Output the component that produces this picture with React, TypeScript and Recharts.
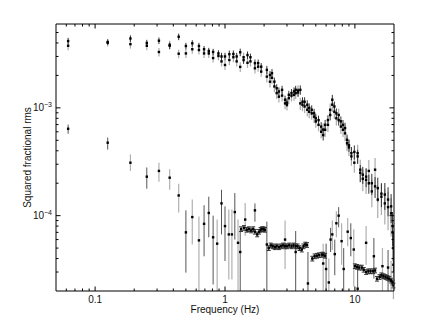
import { ScatterChart, Scatter, XAxis, YAxis, ErrorBar } from 'recharts';

// axis ticks (log scales, minor ticks unlabeled)
const xTicks = [0.06, 0.07, 0.08, 0.09, 0.1, 0.2, 0.3, 0.4, 0.5, 0.6, 0.7, 0.8, 0.9, 1, 2, 3, 4, 5, 6, 7, 8, 9, 10];
const xMajor = [0.1, 1, 10];
const yTicks = [
  3e-5, 4e-5, 5e-5, 6e-5, 7e-5, 8e-5, 9e-5, 1e-4,
  2e-4, 3e-4, 4e-4, 5e-4, 6e-4, 7e-4, 8e-4, 9e-4, 1e-3,
  2e-3, 3e-3, 4e-3, 5e-3,
];
const yMajor = [1e-4, 1e-3];
const yMajorExp: Record<string, string> = { '0.0001': '\u22124', '0.001': '\u22123' };

// upper power spectrum, two overlapping observations
const upperFreq = [
  0.062, 0.125, 0.187, 0.25, 0.31, 0.375, 0.44, 0.5, 0.56, 0.63,
  0.69, 0.75, 0.81, 0.89, 0.94, 1.0, 1.08, 1.16, 1.23, 1.31,
  1.39, 1.49, 1.57, 1.7, 1.8, 1.9, 2.1, 2.22, 2.3, 2.4,
  2.5, 2.6, 2.75, 2.9, 3.0, 3.1, 3.25, 3.4, 3.5, 3.65,
  3.8, 3.95, 4.1, 4.3, 4.45, 4.65, 4.85, 5.0, 5.25, 5.5,
  5.7, 5.9, 6.2, 6.45, 6.7, 6.95, 7.2, 7.5, 7.8, 8.1,
  8.4, 8.7, 9.0, 9.4, 9.9, 10.5, 11, 11.5, 12.2, 12.8,
  13.5, 14.3, 15, 16, 17, 18, 19, 19.5, 19.8,
];
const upperA = [
  4.17e-3, 4.08e-3, 4.4e-3, 4.0e-3, 4.2e-3, 3.77e-3, 4.57e-3, 3.75e-3, 3.97e-3, 3.75e-3,
  3.5e-3, 3.37e-3, 3.3e-3, 3.2e-3, 3.0e-3, 3.0e-3, 3.15e-3, 3.16e-3, 3.0e-3, 3.28e-3,
  2.78e-3, 3.09e-3, 2.95e-3, 2.6e-3, 2.6e-3, 2.41e-3, 2.25e-3, 2.02e-3, 2.1e-3, 1.75e-3,
  1.52e-3, 1.42e-3, 1.47e-3, 1.19e-3, 1.12e-3, 1.32e-3, 1.37e-3, 1.42e-3, 1.47e-3, 1.39e-3,
  1.47e-3, 1.14e-3, 1.14e-3, 1.07e-3, 1.0e-3, 9.6e-4, 8.9e-4, 8.0e-4, 7.7e-4, 6.7e-4,
  5.6e-4, 6.96e-4, 7.7e-4, 8.6e-4, 1.19e-3, 1.03e-3, 8.9e-4, 7.7e-4, 7.5e-4, 6.96e-4,
  6.5e-4, 5.05e-4, 4.5e-4, 3.8e-4, 3.9e-4, 3.55e-4, 2.5e-4, 2.4e-4, 2.3e-4, 2.0e-4,
  2.0e-4, 1.87e-4, 1.8e-4, 1.6e-4, 1.57e-4, 1.41e-4, 1.22e-4, 8e-5, 5e-5,
];
const upperB = [
  3.77e-3, 4.02e-3, 3.9e-3, 3.77e-3, 3.3e-3, 3.85e-3, 3.18e-3, 3.2e-3, 3.5e-3, 3.44e-3,
  3.2e-3, 3.2e-3, 2.9e-3, 3.03e-3, 2.7e-3, 2.5e-3, 2.78e-3, 2.95e-3, 2.7e-3, 2.4e-3,
  2.95e-3, 2.62e-3, 2.7e-3, 2.33e-3, 2.41e-3, 2.17e-3, 1.95e-3, 1.75e-3, 1.9e-3, 1.58e-3,
  1.37e-3, 1.27e-3, 1.3e-3, 1.1e-3, 1.07e-3, 1.23e-3, 1.3e-3, 1.32e-3, 1.37e-3, 1.45e-3,
  1.1e-3, 1.07e-3, 1.03e-3, 9.6e-4, 9.2e-4, 8.9e-4, 8.3e-4, 7.5e-4, 6.96e-4, 6.0e-4,
  6.3e-4, 6.26e-4, 6.96e-4, 9.6e-4, 1.07e-3, 9.2e-4, 8.0e-4, 8.6e-4, 6.7e-4, 6.26e-4,
  5.8e-4, 4.7e-4, 4.3e-4, 3.55e-4, 3.1e-4, 3.8e-4, 2.67e-4, 2.2e-4, 2.15e-4, 2.6e-4,
  1.68e-4, 2.67e-4, 1.41e-4, 1.5e-4, 1.3e-4, 1.2e-4, 1.05e-4, 7e-5, 3.5e-5,
];
// relative half-size of the error bars
const upperErr = [
  0.07, 0.06, 0.07, 0.07, 0.07, 0.07, 0.07, 0.07, 0.07, 0.07,
  0.07, 0.07, 0.07, 0.07, 0.08, 0.08, 0.08, 0.08, 0.08, 0.08,
  0.08, 0.08, 0.08, 0.08, 0.08, 0.08, 0.09, 0.09, 0.09, 0.09,
  0.09, 0.09, 0.09, 0.09, 0.09, 0.09, 0.09, 0.09, 0.09, 0.09,
  0.1, 0.1, 0.1, 0.1, 0.1, 0.1, 0.1, 0.1, 0.1, 0.1,
  0.11, 0.11, 0.11, 0.11, 0.11, 0.11, 0.11, 0.11, 0.11, 0.11,
  0.12, 0.12, 0.13, 0.14, 0.15, 0.15, 0.18, 0.18, 0.2, 0.2,
  0.22, 0.22, 0.25, 0.25, 0.28, 0.3, 0.3, 0.35, 0.4,
];

// lower noisy spectrum: [freq, value, bar low, bar high]
const lowerDark = [
  [0.062, 6.4e-4, 5.75e-4, 7.0e-4],
  [0.125, 4.75e-4, 4.1e-4, 5.3e-4],
  [0.25, 2.3e-4, 1.78e-4, 2.8e-4],
  [0.5, 7.0e-5, 2.96e-5, 1.12e-4],
  [0.69, 8.4e-5, 4.2e-5, 1.25e-4],
  [0.75, 1.06e-4, 6.3e-5, 1.5e-4],
  [0.81, 6.3e-5, 2.3e-5, 1.0e-4],
  [0.94, 1.3e-4, 6.7e-5, 1.74e-4],
  [1.0, 8.0e-5, 3.8e-5, 1.22e-4],
  [1.19, 1.08e-4, 6.0e-5, 1.62e-4],
  [1.31, 4.6e-5, 2.0e-5, 7.4e-5],
  [1.7, 1.12e-4, 8.8e-5, 1.3e-4],
  [2.1, 5.4e-5, 2.0e-5, 8.8e-5],
  [3.5, 4.6e-5, 2.0e-5, 7.2e-5],
  [4.35, 2.35e-5, 2.0e-5, 4.6e-5],
  [6.0, 3.2e-5, 2.0e-5, 5.5e-5],
  [6.5, 6.0e-5, 4.6e-5, 7.7e-5],
  [7.0, 4.4e-5, 2.8e-5, 6.0e-5],
  [7.5, 1.0e-4, 7.8e-5, 1.2e-4],
  [8.2, 3.2e-5, 2.0e-5, 5.0e-5],
  [9.3, 6.2e-5, 4.2e-5, 8.5e-5],
  [10.5, 2.1e-5, 2.0e-5, 3.5e-5],
  [14.0, 4.2e-5, 2.6e-5, 6.2e-5],
  [18.0, 3.3e-5, 2.0e-5, 4.8e-5],
];
const lowerLight = [
  [0.187, 3.1e-4, 2.6e-4, 3.7e-4],
  [0.31, 2.6e-4, 2.06e-4, 3.1e-4],
  [0.375, 2.25e-4, 1.74e-4, 2.7e-4],
  [0.44, 1.54e-4, 1.07e-4, 1.98e-4],
  [0.56, 9.7e-5, 5.4e-5, 1.41e-4],
  [0.63, 5.9e-5, 2.0e-5, 9.8e-5],
  [0.87, 5.5e-5, 2.0e-5, 9.2e-5],
  [1.07, 6.7e-5, 2.56e-5, 1.14e-4],
  [1.13, 6.7e-5, 2.56e-5, 1.14e-4],
  [1.26, 5.6e-5, 2.0e-5, 9.2e-5],
  [1.43, 9.2e-5, 6.5e-5, 1.31e-4],
  [2.9, 6.0e-5, 3.2e-5, 9.0e-5],
  [5.7, 3.6e-5, 2.0e-5, 5.5e-5],
  [6.3, 2.4e-5, 2.0e-5, 4.0e-5],
  [6.7, 6.7e-5, 4.8e-5, 9.0e-5],
  [7.2, 8.5e-5, 6.3e-5, 1.1e-4],
  [7.9, 5.8e-5, 3.5e-5, 8.5e-5],
  [8.8, 7.1e-5, 5.2e-5, 9.5e-5],
  [9.8, 4.85e-5, 2.2e-5, 7.5e-5],
  [12.2, 5.6e-5, 3.5e-5, 8.0e-5],
  [16.3, 3.4e-5, 2.0e-5, 5.0e-5],
  [19.0, 2.5e-5, 2.0e-5, 3.8e-5],
];

// flat noise-level segments
const flatFreq = [
  1.33, 1.4, 1.47, 1.53, 1.59, 1.65, 1.7, 1.77, 1.83, 1.88, 1.93, 1.98, 2.03,
  2.17, 2.25, 2.33, 2.42, 2.5, 2.6, 2.7, 2.8, 2.9, 3.0, 3.12, 3.25, 3.37, 3.5, 3.62, 3.75, 3.9, 4.02, 4.15, 4.28,
  4.7, 4.9, 5.1, 5.3, 5.55, 5.7, 5.9,
  10.0, 10.4, 10.8, 11.3, 11.7, 12.2, 12.7, 13.2, 13.8, 14.3, 14.8,
  15.5, 16.0, 16.6, 17.2, 17.8, 18.4, 19.0, 19.5, 19.8,
];
const flatPow = [
  7.5e-5, 7.7e-5, 7.4e-5, 7.5e-5, 7.3e-5, 7.5e-5, 7.1e-5, 6.7e-5, 7.1e-5, 7.4e-5, 7.5e-5, 7.5e-5, 7.4e-5,
  5.0e-5, 5.3e-5, 5.2e-5, 5.1e-5, 5.2e-5, 5.1e-5, 5.2e-5, 5.3e-5, 5.2e-5, 5.2e-5, 5.3e-5, 5.2e-5, 5.3e-5, 5.2e-5, 5.2e-5, 5.0e-5, 4.85e-5, 5.2e-5, 5.4e-5, 5.35e-5,
  4.0e-5, 4.2e-5, 4.25e-5, 4.3e-5, 4.35e-5, 4.35e-5, 4.25e-5,
  3.4e-5, 3.35e-5, 3.3e-5, 3.3e-5, 3.15e-5, 3.0e-5, 3.05e-5, 3.05e-5, 3.05e-5, 3.1e-5, 2.6e-5,
  2.7e-5, 2.8e-5, 2.75e-5, 2.7e-5, 2.65e-5, 2.6e-5, 2.5e-5, 2.4e-5, 2.25e-5,
];
const flatErr = 0.05;

const upperTableA = upperFreq.map((f, i) => ({ f, v: upperA[i], e: upperA[i] * upperErr[i] }));
const upperTableB = upperFreq.map((f, i) => ({ f, v: upperB[i], e: upperB[i] * upperErr[i] * 1.3 }));
const toTable = (rows: number[][]) => rows.map(([f, v, lo, hi]) => ({ f, v, e: [v - lo, hi - v] }));
const lowerTableDark = toTable(lowerDark);
const lowerTableLight = toTable(lowerLight);
const flatTable = flatFreq.map((f, i) => ({ f, v: flatPow[i], e: flatPow[i] * flatErr }));

const FONT = '"Liberation Sans", Arial, Helvetica, sans-serif';

function BottomTick({ x, y, payload }: any) {
  const major = xMajor.includes(payload.value);
  return (
    <g>
      <line x1={x} y1={y} x2={x} y2={y - (major ? 4.5 : 2.5)} stroke="#000" />
      {major && (
        <text x={x} y={y + 12} textAnchor="middle" fontSize={10} fill="#111" fontFamily={FONT}>
          {payload.value}
        </text>
      )}
    </g>
  );
}

function TopTick({ x, y, payload }: any) {
  const major = xMajor.includes(payload.value);
  return <line x1={x} y1={y} x2={x} y2={y + (major ? 4.5 : 2.5)} stroke="#000" />;
}

function LeftTick({ x, y, payload }: any) {
  const major = yMajor.includes(payload.value);
  return (
    <g>
      <line x1={x} y1={y} x2={x + (major ? 4.5 : 2.5)} y2={y} stroke="#000" />
      {major && (
        <text x={x - 4} y={y + 3.5} textAnchor="end" fontSize={10} fill="#111" fontFamily={FONT}>
          10
          <tspan dy={-4} fontSize={7}>
            {yMajorExp[String(payload.value)]}
          </tspan>
        </text>
      )}
    </g>
  );
}

function RightTick({ x, y, payload }: any) {
  const major = yMajor.includes(payload.value);
  return <line x1={x} y1={y} x2={x - (major ? 4.5 : 2.5)} y2={y} stroke="#000" />;
}

const Dot = (p: any) => <rect x={p.cx - 1.2} y={p.cy - 1.2} width={2.4} height={2.4} fill="#000" />;

export default function App() {
  return (
    <div style={{ fontFamily: FONT }}>
      <ScatterChart width={428} height={320} margin={{ top: 15, right: 41, bottom: 7, left: 8 }}>
        <XAxis
          dataKey="f"
          type="number"
          scale="log"
          domain={[0.05, 20]}
          allowDataOverflow
          ticks={xTicks}
          interval={0}
          tickSize={0}
          tickMargin={0}
          tick={<BottomTick />}
          height={30}
          axisLine={{ stroke: '#000' }}
          label={{ value: 'Frequency (Hz)', position: 'insideBottom', offset: 8, fontSize: 10, fill: '#111' }}
        />
        <XAxis
          xAxisId="top"
          dataKey="f"
          orientation="top"
          type="number"
          scale="log"
          domain={[0.05, 20]}
          allowDataOverflow
          ticks={xTicks}
          interval={0}
          tickSize={0}
          tickMargin={0}
          tick={<TopTick />}
          height={1}
          axisLine={{ stroke: '#000' }}
        />
        <YAxis
          dataKey="v"
          type="number"
          scale="log"
          domain={[2e-5, 6e-3]}
          allowDataOverflow
          ticks={yTicks}
          interval={0}
          tickSize={0}
          tickMargin={0}
          tick={<LeftTick />}
          width={40}
          axisLine={{ stroke: '#000' }}
          label={{
            value: 'Squared fractional rms',
            angle: -90,
            position: 'insideLeft',
            offset: 11,
            fontSize: 10,
            fill: '#111',
            style: { textAnchor: 'middle' },
          }}
        />
        <YAxis
          yAxisId="right"
          dataKey="v"
          orientation="right"
          type="number"
          scale="log"
          domain={[2e-5, 6e-3]}
          allowDataOverflow
          ticks={yTicks}
          interval={0}
          tickSize={0}
          tickMargin={0}
          tick={<RightTick />}
          width={1}
          axisLine={{ stroke: '#000' }}
        />
        {/* invisible series bound to the frame axes so they get drawn */}
        <Scatter data={upperTableA} xAxisId="top" yAxisId="right" shape={() => <g />} isAnimationActive={false} />
        <Scatter data={lowerTableLight} shape={Dot} isAnimationActive={false}>
          <ErrorBar dataKey="e" direction="y" width={0} stroke="#b0b0b0" strokeWidth={1.2} isAnimationActive={false} />
        </Scatter>
        <Scatter data={lowerTableDark} shape={Dot} isAnimationActive={false}>
          <ErrorBar dataKey="e" direction="y" width={0} stroke="#555" strokeWidth={1} isAnimationActive={false} />
        </Scatter>
        <Scatter data={flatTable} shape={Dot} isAnimationActive={false}>
          <ErrorBar dataKey="e" direction="y" width={2} stroke="#333" strokeWidth={1} isAnimationActive={false} />
        </Scatter>
        <Scatter data={upperTableB} shape={Dot} isAnimationActive={false}>
          <ErrorBar dataKey="e" direction="y" width={0} stroke="#aaa" strokeWidth={1.2} isAnimationActive={false} />
        </Scatter>
        <Scatter data={upperTableA} shape={Dot} isAnimationActive={false}>
          <ErrorBar dataKey="e" direction="y" width={0} stroke="#333" strokeWidth={1} isAnimationActive={false} />
        </Scatter>
      </ScatterChart>
    </div>
  );
}
